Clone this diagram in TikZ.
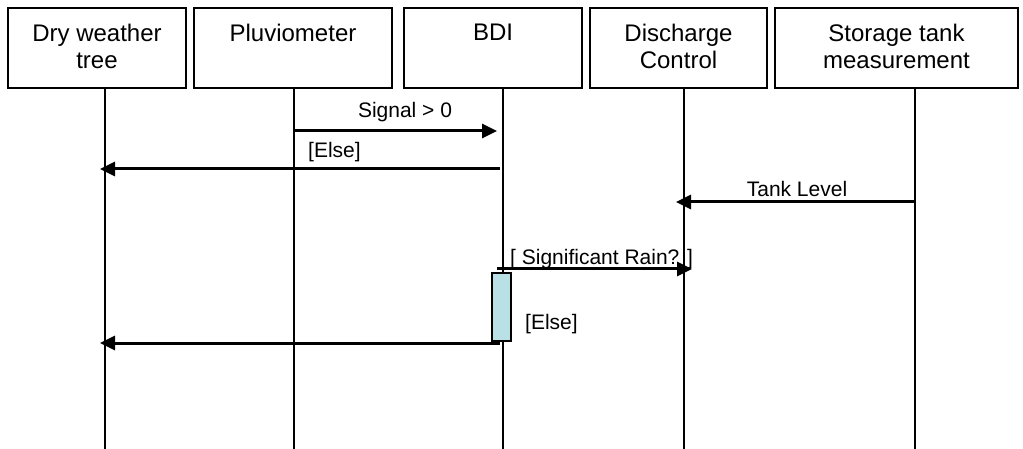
\documentclass[tikz,border=0pt]{standalone}
\usepackage{fontspec}
\setmainfont{Liberation Sans}
\usetikzlibrary{arrows.meta}
\definecolor{actfill}{RGB}{185,224,228}
\begin{document}
\begin{tikzpicture}[x=1pt,y=-1pt,
  actor/.style={draw, line width=2pt, inner sep=0pt, align=center,
    minimum height=80pt, font=\fontsize{24}{27}\selectfont},
  life/.style={line width=1.8pt},
  msg/.style={line width=3pt, -{Triangle[length=15pt,width=14pt]}},
  mlabel/.style={font=\fontsize{21}{25}\selectfont, inner sep=0pt},
  activation/.style={draw, line width=1.5pt, fill=actfill, inner sep=0pt}]
\useasboundingbox (0,0) rectangle (1023,449);

% actors
\node[actor, minimum width=178pt, text depth=4pt] (dry) at (97,48) {Dry weather\\tree};
\node[actor, minimum width=198pt, text depth=31pt] (pluv) at (293,48) {Pluviometer};
\node[actor, minimum width=178pt, text depth=31pt] (bdi) at (493,48) {BDI};
\node[actor, minimum width=177pt, text depth=4pt] (dis) at (678.5,48) {Discharge\\Control};
\node[actor, minimum width=243pt, text depth=4pt, line width=1.2pt] (sto) at (896.5,48) {Storage tank\\measurement};

% lifelines
\coordinate (dryT) at (105,88);   \coordinate (dryB) at (105,449);
\coordinate (pluT) at (294,88);   \coordinate (pluB) at (294,449);
\coordinate (bdiT) at (503,88);   \coordinate (bdiB) at (503,449);
\coordinate (disT) at (684,88);   \coordinate (disB) at (684,449);
\coordinate (stoT) at (915,88);   \coordinate (stoB) at (915,449);
\draw[life] (dryT) -- (dryB);
\draw[life] (pluT) -- (pluB);
\draw[life] (bdiT) -- (bdiB);
\draw[life] (disT) -- (disB);
\draw[life] (stoT) -- (stoB);

% activation
\node[activation, minimum width=19pt, minimum height=68pt] (act) at (501.5,307) {};

% message end points
\coordinate (m1s) at (294,131); \coordinate (m1e) at (497,131);
\coordinate (m2s) at (500,169); \coordinate (m2e) at (100,169);
\coordinate (m3s) at (915,202); \coordinate (m3e) at (676,202);
\coordinate (m4s) at (497,269); \coordinate (m4e) at (692,269);
\coordinate (m5s) at (500,343); \coordinate (m5e) at (100,343);

\draw[msg] (m1s) -- (m1e);
\draw[msg] (m2s) -- (m2e);
\draw[msg] (m3s) -- (m3e);
\draw[msg] (m4s) -- (m4e);
\draw[msg] (m5s) -- (m5e);

% labels
\node[mlabel, anchor=base] (l1) at (405,118) {Signal > 0};
\node[mlabel, anchor=base west] (l2) at (308,158) {[Else]};
\node[mlabel, anchor=base] (l3) at (797,197) {Tank Level};
\node[mlabel, anchor=base west] (l4) at (510,265) {[ Significant Rain? ]};
\node[mlabel, anchor=base west] (l5) at (525,329) {[Else]};
\end{tikzpicture}
\end{document}
